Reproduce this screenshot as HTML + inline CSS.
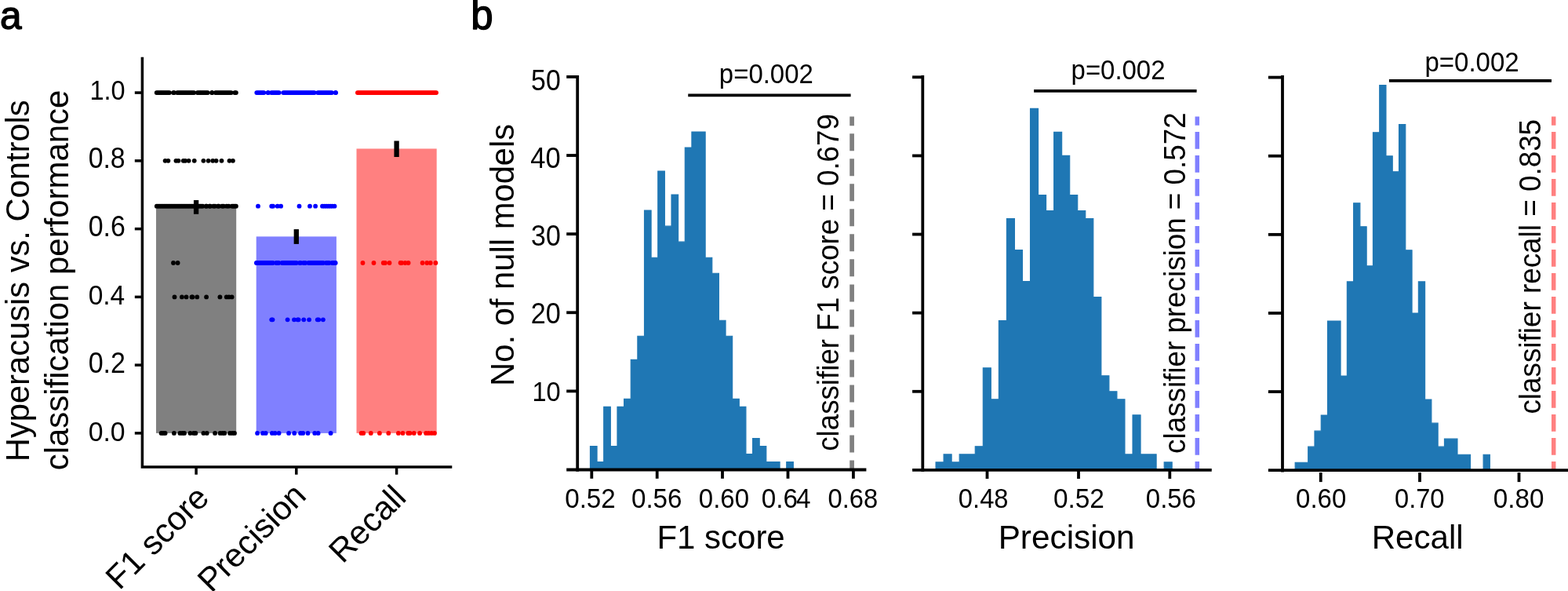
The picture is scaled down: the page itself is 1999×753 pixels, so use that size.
<!DOCTYPE html>
<html lang="en">
<head>
<meta charset="utf-8">
<title>Hyperacusis vs. Controls classification performance</title>
<style>
html, body { margin: 0; padding: 0; background: #ffffff; }
body { width: 1999px; height: 753px; overflow: hidden; }
svg { display: block; font-family: "Liberation Sans", "Noto Sans CJK SC", sans-serif; fill: #000; }
</style>
</head>
<body>
<svg width="1999" height="753" viewBox="0 0 1999 753">
<rect x="0" y="0" width="1999" height="753" fill="#ffffff"/>
<g id="panel-a">
<rect x="199" y="263.86" width="102.2" height="288.04" fill="#808080"/>
<rect x="326.7" y="301.38" width="102.2" height="250.52" fill="#8080ff"/>
<rect x="454.5" y="189.46" width="102.2" height="362.44" fill="#ff8080"/>
<rect x="246.95" y="255" width="6.3" height="17.8" fill="#000"/>
<rect x="374.65" y="292.1" width="6.3" height="18.8" fill="#000"/>
<rect x="502.45" y="179.5" width="6.3" height="20.5" fill="#000"/>
<g fill="#000"><circle cx="199.7" cy="118.1" r="2.9"/><circle cx="201.51" cy="118.1" r="2.9"/><circle cx="203.32" cy="118.1" r="2.9"/><circle cx="205.13" cy="118.1" r="2.9"/><circle cx="206.94" cy="118.1" r="2.9"/><circle cx="208.76" cy="118.1" r="2.9"/><circle cx="210.57" cy="118.1" r="2.9"/><circle cx="212.38" cy="118.1" r="2.9"/><circle cx="214.19" cy="118.1" r="2.9"/><circle cx="216" cy="118.1" r="2.9"/><circle cx="221" cy="118.1" r="2.9"/><circle cx="222" cy="118.1" r="2.9"/><circle cx="226" cy="118.1" r="2.9"/><circle cx="227.93" cy="118.1" r="2.9"/><circle cx="229.86" cy="118.1" r="2.9"/><circle cx="231.8" cy="118.1" r="2.9"/><circle cx="233.73" cy="118.1" r="2.9"/><circle cx="235.66" cy="118.1" r="2.9"/><circle cx="237.59" cy="118.1" r="2.9"/><circle cx="239.52" cy="118.1" r="2.9"/><circle cx="241.45" cy="118.1" r="2.9"/><circle cx="243.39" cy="118.1" r="2.9"/><circle cx="245.32" cy="118.1" r="2.9"/><circle cx="247.25" cy="118.1" r="2.9"/><circle cx="251.75" cy="118.1" r="2.9"/><circle cx="253.61" cy="118.1" r="2.9"/><circle cx="255.48" cy="118.1" r="2.9"/><circle cx="257.34" cy="118.1" r="2.9"/><circle cx="259.21" cy="118.1" r="2.9"/><circle cx="261.07" cy="118.1" r="2.9"/><circle cx="262.94" cy="118.1" r="2.9"/><circle cx="264.8" cy="118.1" r="2.9"/><circle cx="270.2" cy="118.1" r="2.9"/><circle cx="270.25" cy="118.1" r="2.9"/><circle cx="274.75" cy="118.1" r="2.9"/><circle cx="276.75" cy="118.1" r="2.9"/><circle cx="278.74" cy="118.1" r="2.9"/><circle cx="280.74" cy="118.1" r="2.9"/><circle cx="282.73" cy="118.1" r="2.9"/><circle cx="284.73" cy="118.1" r="2.9"/><circle cx="286.72" cy="118.1" r="2.9"/><circle cx="288.71" cy="118.1" r="2.9"/><circle cx="290.71" cy="118.1" r="2.9"/><circle cx="292.7" cy="118.1" r="2.9"/><circle cx="294.7" cy="118.1" r="2.9"/><circle cx="299.3" cy="118.1" r="2.9"/><circle cx="300.9" cy="118.1" r="2.9"/></g>
<g fill="#000"><circle cx="210.6" cy="204.86" r="2.9"/><circle cx="214.4" cy="204.86" r="2.9"/><circle cx="224.4" cy="204.86" r="2.9"/><circle cx="227.5" cy="204.86" r="2.9"/><circle cx="233.75" cy="204.86" r="2.9"/><circle cx="236.25" cy="204.86" r="2.9"/><circle cx="240.6" cy="204.86" r="2.9"/><circle cx="247.75" cy="204.86" r="2.9"/><circle cx="259.4" cy="204.86" r="2.9"/><circle cx="265.6" cy="204.86" r="2.9"/><circle cx="271.25" cy="204.86" r="2.9"/><circle cx="275.6" cy="204.86" r="2.9"/><circle cx="282.5" cy="204.86" r="2.9"/><circle cx="292.5" cy="204.86" r="2.9"/><circle cx="296.9" cy="204.86" r="2.9"/></g>
<g fill="#000"><circle cx="199.8" cy="262.69" r="2.9"/><circle cx="201.69" cy="262.69" r="2.9"/><circle cx="203.58" cy="262.69" r="2.9"/><circle cx="205.47" cy="262.69" r="2.9"/><circle cx="207.36" cy="262.69" r="2.9"/><circle cx="209.25" cy="262.69" r="2.9"/><circle cx="211.14" cy="262.69" r="2.9"/><circle cx="213.03" cy="262.69" r="2.9"/><circle cx="214.92" cy="262.69" r="2.9"/><circle cx="216.81" cy="262.69" r="2.9"/><circle cx="218.7" cy="262.69" r="2.9"/><circle cx="220.59" cy="262.69" r="2.9"/><circle cx="222.48" cy="262.69" r="2.9"/><circle cx="224.37" cy="262.69" r="2.9"/><circle cx="226.26" cy="262.69" r="2.9"/><circle cx="228.15" cy="262.69" r="2.9"/><circle cx="230.05" cy="262.69" r="2.9"/><circle cx="231.94" cy="262.69" r="2.9"/><circle cx="233.83" cy="262.69" r="2.9"/><circle cx="235.72" cy="262.69" r="2.9"/><circle cx="237.61" cy="262.69" r="2.9"/><circle cx="239.5" cy="262.69" r="2.9"/><circle cx="241.39" cy="262.69" r="2.9"/><circle cx="243.28" cy="262.69" r="2.9"/><circle cx="245.17" cy="262.69" r="2.9"/><circle cx="247.06" cy="262.69" r="2.9"/><circle cx="248.95" cy="262.69" r="2.9"/><circle cx="250.84" cy="262.69" r="2.9"/><circle cx="252.73" cy="262.69" r="2.9"/><circle cx="254.62" cy="262.69" r="2.9"/><circle cx="256.51" cy="262.69" r="2.9"/><circle cx="258.4" cy="262.69" r="2.9"/><circle cx="262.8" cy="262.69" r="2.9"/><circle cx="263.2" cy="262.69" r="2.9"/><circle cx="267.2" cy="262.69" r="2.9"/><circle cx="267.9" cy="262.69" r="2.9"/><circle cx="272.1" cy="262.69" r="2.9"/><circle cx="274" cy="262.69" r="2.9"/><circle cx="278" cy="262.69" r="2.9"/><circle cx="278.85" cy="262.69" r="2.9"/><circle cx="283.15" cy="262.69" r="2.9"/><circle cx="285" cy="262.69" r="2.9"/><circle cx="289" cy="262.69" r="2.9"/><circle cx="291.55" cy="262.69" r="2.9"/><circle cx="295.85" cy="262.69" r="2.9"/><circle cx="297.53" cy="262.69" r="2.9"/><circle cx="299.22" cy="262.69" r="2.9"/><circle cx="300.9" cy="262.69" r="2.9"/></g>
<g fill="#000"><circle cx="221" cy="335" r="2.9"/><circle cx="226.6" cy="335" r="2.9"/></g>
<g fill="#000"><circle cx="222.5" cy="378.38" r="2.9"/><circle cx="231.9" cy="378.38" r="2.9"/><circle cx="237.5" cy="378.38" r="2.9"/><circle cx="244.5" cy="378.38" r="2.9"/><circle cx="245.5" cy="378.38" r="2.9"/><circle cx="251.25" cy="378.38" r="2.9"/><circle cx="263.1" cy="378.38" r="2.9"/><circle cx="280.4" cy="378.38" r="2.9"/><circle cx="288.75" cy="378.38" r="2.9"/><circle cx="291.9" cy="378.38" r="2.9"/><circle cx="295.6" cy="378.38" r="2.9"/></g>
<g fill="#000"><circle cx="205.6" cy="551.9" r="2.9"/><circle cx="208.1" cy="551.9" r="2.9"/><circle cx="210.6" cy="551.9" r="2.9"/><circle cx="221.9" cy="551.9" r="2.9"/><circle cx="229.4" cy="551.9" r="2.9"/><circle cx="232.5" cy="551.9" r="2.9"/><circle cx="235" cy="551.9" r="2.9"/><circle cx="242.5" cy="551.9" r="2.9"/><circle cx="246.9" cy="551.9" r="2.9"/><circle cx="249.4" cy="551.9" r="2.9"/><circle cx="259.4" cy="551.9" r="2.9"/><circle cx="263.75" cy="551.9" r="2.9"/><circle cx="274.1" cy="551.9" r="2.9"/><circle cx="280.6" cy="551.9" r="2.9"/><circle cx="283.75" cy="551.9" r="2.9"/><circle cx="286.25" cy="551.9" r="2.9"/><circle cx="293.1" cy="551.9" r="2.9"/><circle cx="296.25" cy="551.9" r="2.9"/><circle cx="299" cy="551.9" r="2.9"/></g>
<g fill="#0000ff"><circle cx="327.3" cy="118.1" r="2.9"/><circle cx="329.12" cy="118.1" r="2.9"/><circle cx="330.94" cy="118.1" r="2.9"/><circle cx="332.76" cy="118.1" r="2.9"/><circle cx="334.58" cy="118.1" r="2.9"/><circle cx="336.4" cy="118.1" r="2.9"/><circle cx="341.6" cy="118.1" r="2.9"/><circle cx="342" cy="118.1" r="2.9"/><circle cx="346" cy="118.1" r="2.9"/><circle cx="347.95" cy="118.1" r="2.9"/><circle cx="349.9" cy="118.1" r="2.9"/><circle cx="351.85" cy="118.1" r="2.9"/><circle cx="353.8" cy="118.1" r="2.9"/><circle cx="355.75" cy="118.1" r="2.9"/><circle cx="361.25" cy="118.1" r="2.9"/><circle cx="363.13" cy="118.1" r="2.9"/><circle cx="365.01" cy="118.1" r="2.9"/><circle cx="366.89" cy="118.1" r="2.9"/><circle cx="368.77" cy="118.1" r="2.9"/><circle cx="370.65" cy="118.1" r="2.9"/><circle cx="372.54" cy="118.1" r="2.9"/><circle cx="374.42" cy="118.1" r="2.9"/><circle cx="376.3" cy="118.1" r="2.9"/><circle cx="378.18" cy="118.1" r="2.9"/><circle cx="380.06" cy="118.1" r="2.9"/><circle cx="381.94" cy="118.1" r="2.9"/><circle cx="383.82" cy="118.1" r="2.9"/><circle cx="385.7" cy="118.1" r="2.9"/><circle cx="387.58" cy="118.1" r="2.9"/><circle cx="389.46" cy="118.1" r="2.9"/><circle cx="391.35" cy="118.1" r="2.9"/><circle cx="393.23" cy="118.1" r="2.9"/><circle cx="395.11" cy="118.1" r="2.9"/><circle cx="396.99" cy="118.1" r="2.9"/><circle cx="398.87" cy="118.1" r="2.9"/><circle cx="400.75" cy="118.1" r="2.9"/><circle cx="405.25" cy="118.1" r="2.9"/><circle cx="407.21" cy="118.1" r="2.9"/><circle cx="409.17" cy="118.1" r="2.9"/><circle cx="411.13" cy="118.1" r="2.9"/><circle cx="413.09" cy="118.1" r="2.9"/><circle cx="415.06" cy="118.1" r="2.9"/><circle cx="417.02" cy="118.1" r="2.9"/><circle cx="418.98" cy="118.1" r="2.9"/><circle cx="420.94" cy="118.1" r="2.9"/><circle cx="422.9" cy="118.1" r="2.9"/><circle cx="427.7" cy="118.1" r="2.9"/><circle cx="428.1" cy="118.1" r="2.9"/></g>
<g fill="#0000ff"><circle cx="329" cy="262.69" r="2.9"/><circle cx="346.25" cy="262.69" r="2.9"/><circle cx="348.1" cy="262.69" r="2.9"/><circle cx="353.75" cy="262.69" r="2.9"/><circle cx="358.1" cy="262.69" r="2.9"/><circle cx="381.5" cy="262.69" r="2.9"/><circle cx="395" cy="262.69" r="2.9"/><circle cx="402.1" cy="262.69" r="2.9"/><circle cx="411" cy="262.69" r="2.9"/><circle cx="413.5" cy="262.69" r="2.9"/><circle cx="416" cy="262.69" r="2.9"/><circle cx="418.5" cy="262.69" r="2.9"/><circle cx="421" cy="262.69" r="2.9"/><circle cx="423.5" cy="262.69" r="2.9"/><circle cx="426.5" cy="262.69" r="2.9"/></g>
<g fill="#0000ff"><circle cx="326.9" cy="335" r="2.9"/><circle cx="328.8" cy="335" r="2.9"/><circle cx="330.71" cy="335" r="2.9"/><circle cx="332.61" cy="335" r="2.9"/><circle cx="334.52" cy="335" r="2.9"/><circle cx="336.42" cy="335" r="2.9"/><circle cx="338.33" cy="335" r="2.9"/><circle cx="340.23" cy="335" r="2.9"/><circle cx="342.14" cy="335" r="2.9"/><circle cx="344.04" cy="335" r="2.9"/><circle cx="345.95" cy="335" r="2.9"/><circle cx="347.85" cy="335" r="2.9"/><circle cx="352.15" cy="335" r="2.9"/><circle cx="353.73" cy="335" r="2.9"/><circle cx="355.3" cy="335" r="2.9"/><circle cx="359.7" cy="335" r="2.9"/><circle cx="361.51" cy="335" r="2.9"/><circle cx="363.32" cy="335" r="2.9"/><circle cx="365.13" cy="335" r="2.9"/><circle cx="366.94" cy="335" r="2.9"/><circle cx="368.75" cy="335" r="2.9"/><circle cx="370.56" cy="335" r="2.9"/><circle cx="372.37" cy="335" r="2.9"/><circle cx="374.18" cy="335" r="2.9"/><circle cx="375.99" cy="335" r="2.9"/><circle cx="377.8" cy="335" r="2.9"/><circle cx="382.2" cy="335" r="2.9"/><circle cx="383" cy="335" r="2.9"/><circle cx="387" cy="335" r="2.9"/><circle cx="389.2" cy="335" r="2.9"/><circle cx="393.4" cy="335" r="2.9"/><circle cx="395.26" cy="335" r="2.9"/><circle cx="397.12" cy="335" r="2.9"/><circle cx="398.98" cy="335" r="2.9"/><circle cx="400.84" cy="335" r="2.9"/><circle cx="402.7" cy="335" r="2.9"/><circle cx="404.56" cy="335" r="2.9"/><circle cx="406.42" cy="335" r="2.9"/><circle cx="408.28" cy="335" r="2.9"/><circle cx="410.14" cy="335" r="2.9"/><circle cx="412" cy="335" r="2.9"/><circle cx="416" cy="335" r="2.9"/><circle cx="417.75" cy="335" r="2.9"/><circle cx="419.5" cy="335" r="2.9"/><circle cx="423.5" cy="335" r="2.9"/><circle cx="425.6" cy="335" r="2.9"/><circle cx="427.7" cy="335" r="2.9"/></g>
<g fill="#0000ff"><circle cx="346.25" cy="407.31" r="2.9"/><circle cx="347.5" cy="407.31" r="2.9"/><circle cx="366.6" cy="407.31" r="2.9"/><circle cx="375" cy="407.31" r="2.9"/><circle cx="379.4" cy="407.31" r="2.9"/><circle cx="380.6" cy="407.31" r="2.9"/><circle cx="387.25" cy="407.31" r="2.9"/><circle cx="394.1" cy="407.31" r="2.9"/><circle cx="404.75" cy="407.31" r="2.9"/><circle cx="406.25" cy="407.31" r="2.9"/><circle cx="411.9" cy="407.31" r="2.9"/></g>
<g fill="#0000ff"><circle cx="328.1" cy="551.9" r="2.9"/><circle cx="335" cy="551.9" r="2.9"/><circle cx="338.75" cy="551.9" r="2.9"/><circle cx="346.9" cy="551.9" r="2.9"/><circle cx="350.6" cy="551.9" r="2.9"/><circle cx="355.6" cy="551.9" r="2.9"/><circle cx="368.1" cy="551.9" r="2.9"/><circle cx="375.25" cy="551.9" r="2.9"/><circle cx="383.1" cy="551.9" r="2.9"/><circle cx="386.25" cy="551.9" r="2.9"/><circle cx="392.5" cy="551.9" r="2.9"/><circle cx="401.25" cy="551.9" r="2.9"/><circle cx="405.6" cy="551.9" r="2.9"/><circle cx="421.6" cy="551.9" r="2.9"/></g>
<g fill="#ff0000"><circle cx="455.9" cy="118.1" r="2.9"/><circle cx="457.79" cy="118.1" r="2.9"/><circle cx="459.68" cy="118.1" r="2.9"/><circle cx="461.57" cy="118.1" r="2.9"/><circle cx="463.46" cy="118.1" r="2.9"/><circle cx="465.35" cy="118.1" r="2.9"/><circle cx="467.24" cy="118.1" r="2.9"/><circle cx="469.13" cy="118.1" r="2.9"/><circle cx="471.02" cy="118.1" r="2.9"/><circle cx="472.92" cy="118.1" r="2.9"/><circle cx="474.81" cy="118.1" r="2.9"/><circle cx="476.7" cy="118.1" r="2.9"/><circle cx="478.59" cy="118.1" r="2.9"/><circle cx="480.48" cy="118.1" r="2.9"/><circle cx="482.37" cy="118.1" r="2.9"/><circle cx="484.26" cy="118.1" r="2.9"/><circle cx="486.15" cy="118.1" r="2.9"/><circle cx="488.04" cy="118.1" r="2.9"/><circle cx="489.93" cy="118.1" r="2.9"/><circle cx="491.82" cy="118.1" r="2.9"/><circle cx="493.71" cy="118.1" r="2.9"/><circle cx="495.6" cy="118.1" r="2.9"/><circle cx="497.49" cy="118.1" r="2.9"/><circle cx="499.38" cy="118.1" r="2.9"/><circle cx="501.27" cy="118.1" r="2.9"/><circle cx="503.16" cy="118.1" r="2.9"/><circle cx="505.05" cy="118.1" r="2.9"/><circle cx="506.95" cy="118.1" r="2.9"/><circle cx="508.84" cy="118.1" r="2.9"/><circle cx="510.73" cy="118.1" r="2.9"/><circle cx="512.62" cy="118.1" r="2.9"/><circle cx="514.51" cy="118.1" r="2.9"/><circle cx="516.4" cy="118.1" r="2.9"/><circle cx="518.29" cy="118.1" r="2.9"/><circle cx="520.18" cy="118.1" r="2.9"/><circle cx="522.07" cy="118.1" r="2.9"/><circle cx="523.96" cy="118.1" r="2.9"/><circle cx="525.85" cy="118.1" r="2.9"/><circle cx="527.74" cy="118.1" r="2.9"/><circle cx="529.63" cy="118.1" r="2.9"/><circle cx="531.52" cy="118.1" r="2.9"/><circle cx="533.41" cy="118.1" r="2.9"/><circle cx="535.3" cy="118.1" r="2.9"/><circle cx="537.19" cy="118.1" r="2.9"/><circle cx="539.08" cy="118.1" r="2.9"/><circle cx="540.98" cy="118.1" r="2.9"/><circle cx="542.87" cy="118.1" r="2.9"/><circle cx="544.76" cy="118.1" r="2.9"/><circle cx="546.65" cy="118.1" r="2.9"/><circle cx="548.54" cy="118.1" r="2.9"/><circle cx="550.43" cy="118.1" r="2.9"/><circle cx="552.32" cy="118.1" r="2.9"/><circle cx="554.21" cy="118.1" r="2.9"/><circle cx="556.1" cy="118.1" r="2.9"/></g>
<g fill="#ff0000"><circle cx="462.5" cy="335" r="2.9"/><circle cx="476.5" cy="335" r="2.9"/><circle cx="488.75" cy="335" r="2.9"/><circle cx="491" cy="335" r="2.9"/><circle cx="496.5" cy="335" r="2.9"/><circle cx="510.5" cy="335" r="2.9"/><circle cx="512" cy="335" r="2.9"/><circle cx="516.5" cy="335" r="2.9"/><circle cx="520.6" cy="335" r="2.9"/><circle cx="538.6" cy="335" r="2.9"/><circle cx="544.3" cy="335" r="2.9"/><circle cx="548.75" cy="335" r="2.9"/><circle cx="555.4" cy="335" r="2.9"/></g>
<g fill="#ff0000"><circle cx="460.6" cy="551.9" r="2.9"/><circle cx="463.25" cy="551.9" r="2.9"/><circle cx="472.8" cy="551.9" r="2.9"/><circle cx="483.9" cy="551.9" r="2.9"/><circle cx="495.3" cy="551.9" r="2.9"/><circle cx="507.9" cy="551.9" r="2.9"/><circle cx="513.5" cy="551.9" r="2.9"/><circle cx="520.25" cy="551.9" r="2.9"/><circle cx="522.5" cy="551.9" r="2.9"/><circle cx="527.75" cy="551.9" r="2.9"/><circle cx="535.1" cy="551.9" r="2.9"/><circle cx="543.1" cy="551.9" r="2.9"/><circle cx="546.5" cy="551.9" r="2.9"/><circle cx="550.25" cy="551.9" r="2.9"/><circle cx="554" cy="551.9" r="2.9"/></g>
<path d="M181.4 72.8 V595 H576.3" fill="none" stroke="#000" stroke-width="3.5" stroke-linejoin="miter"/>
<line x1="171.8" y1="118.1" x2="181.4" y2="118.1" stroke="#000" stroke-width="3.5"/>
<text transform="translate(114.41 126.9) scale(1 1.065)" font-size="32.47">1.0</text>
<line x1="171.8" y1="204.86" x2="181.4" y2="204.86" stroke="#000" stroke-width="3.5"/>
<text transform="translate(112.65 214) scale(1 1.065)" font-size="33.84">0.8</text>
<line x1="171.8" y1="291.62" x2="181.4" y2="291.62" stroke="#000" stroke-width="3.5"/>
<text transform="translate(112.64 301.1) scale(1 1.065)" font-size="33.91">0.6</text>
<line x1="171.8" y1="378.38" x2="181.4" y2="378.38" stroke="#000" stroke-width="3.5"/>
<text transform="translate(112.66 388.2) scale(1 1.065)" font-size="33.52">0.4</text>
<line x1="171.8" y1="465.14" x2="181.4" y2="465.14" stroke="#000" stroke-width="3.5"/>
<text transform="translate(112.64 475.3) scale(1 1.065)" font-size="34.04">0.2</text>
<line x1="171.8" y1="551.9" x2="181.4" y2="551.9" stroke="#000" stroke-width="3.5"/>
<text transform="translate(112.65 562.4) scale(1 1.065)" font-size="33.78">0.0</text>
<line x1="250.1" y1="595" x2="250.1" y2="604.7" stroke="#000" stroke-width="3.5"/>
<line x1="377.8" y1="595" x2="377.8" y2="604.7" stroke="#000" stroke-width="3.5"/>
<line x1="505.6" y1="595" x2="505.6" y2="604.7" stroke="#000" stroke-width="3.5"/>
<text transform="translate(268.6 636.7) rotate(-45)" font-size="42.3" text-anchor="end">F1 score</text>
<text transform="translate(392.4 633.6) rotate(-45)" font-size="42.3" text-anchor="end">Precision</text>
<text transform="translate(519.85 636.15) rotate(-45)" font-size="42.3" text-anchor="end">Recall</text>
<text transform="translate(37.1 588.19) rotate(-90)" font-size="41.68">Hyperacusis vs. Controls</text>
<text transform="translate(87.1 599.28) rotate(-90)" font-size="41.93">classification performance</text>
<text x="0" y="37.4" font-size="49.5" stroke="#000" stroke-width="1.4" stroke-linejoin="round">a</text>
<text x="600.3" y="36.8" font-size="51" stroke="#000" stroke-width="1.4" stroke-linejoin="round">b</text>
</g>
<g id="panel-b">
<path d="M752.45 598.5V568.46H761.08V588.49H769.71V518.4H778.34V568.46H786.97V518.4H795.6V508.39H804.23V458.33H812.86V428.3H821.49V268.1H830.12V328.18H838.75V218.04H847.38V288.13H856.01V248.08H864.64V308.15H873.27V188.01H881.9V167.98H890.53V167.98H899.16V328.18H907.79V348.2H916.42V408.27H925.05V428.3H933.68V508.39H942.31V518.4H950.94V578.48H959.57V558.45H968.2V568.46H976.83V588.49H985.46V588.49H994.09V598.5H1002.72V588.49H1011.35V598.5Z" fill="#1f77b4" stroke="#1f77b4" stroke-width="1.1" stroke-linejoin="miter"/>
<path d="M1086.1 148.5V160.17M1086.1 170.2V192.2M1086.1 202.23V224.23M1086.1 234.26V256.26M1086.1 266.29V288.29M1086.1 298.32V320.32M1086.1 330.35V352.35M1086.1 362.38V384.38M1086.1 394.41V416.41M1086.1 426.44V448.44M1086.1 458.47V480.47M1086.1 490.5V512.5M1086.1 522.53V544.53M1086.1 554.56V576.56M1086.1 586.59V598.5" fill="none" stroke="#808080" stroke-width="5.7"/>
<path d="M736.2 96 V600.7" fill="none" stroke="#000" stroke-width="3.8"/>
<path d="M722.2 598.5 H1104.4" fill="none" stroke="#000" stroke-width="3.8"/>
<line x1="722.2" y1="498.38" x2="736.2" y2="498.38" stroke="#000" stroke-width="3.8"/>
<text transform="translate(678.41 510.8) scale(1 1.065)" font-size="32.58">10</text>
<line x1="722.2" y1="398.26" x2="736.2" y2="398.26" stroke="#000" stroke-width="3.8"/>
<text transform="translate(676.64 411.95) scale(1 1.065)" font-size="34.23">20</text>
<line x1="722.2" y1="298.14" x2="736.2" y2="298.14" stroke="#000" stroke-width="3.8"/>
<text transform="translate(677.08 313.05) scale(1 1.065)" font-size="33.82">30</text>
<line x1="722.2" y1="198.02" x2="736.2" y2="198.02" stroke="#000" stroke-width="3.8"/>
<text transform="translate(676.37 214.15) scale(1 1.065)" font-size="34.48">40</text>
<line x1="722.2" y1="97.9" x2="736.2" y2="97.9" stroke="#000" stroke-width="3.8"/>
<text transform="translate(677.1 114.65) scale(1 1.065)" font-size="33.8">50</text>
<line x1="754.3" y1="598.5" x2="754.3" y2="609.8" stroke="#000" stroke-width="3.8"/>
<line x1="837.7" y1="598.5" x2="837.7" y2="609.8" stroke="#000" stroke-width="3.8"/>
<line x1="921" y1="598.5" x2="921" y2="609.8" stroke="#000" stroke-width="3.8"/>
<line x1="1004.5" y1="598.5" x2="1004.5" y2="609.8" stroke="#000" stroke-width="3.8"/>
<line x1="1087.9" y1="598.5" x2="1087.9" y2="609.8" stroke="#000" stroke-width="3.8"/>
<text transform="translate(720.17 646.9) scale(1 1.065)" font-size="33.23">0.52</text>
<text transform="translate(804.92 646.9) scale(1 1.065)" font-size="33.23">0.56</text>
<text transform="translate(890.83 646.9) scale(1 1.065)" font-size="32.99">0.60</text>
<text transform="translate(970.82 646.9) scale(1 1.065)" font-size="33.3">0.6<tspan dx="-2.1">4</tspan></text>
<text transform="translate(1055.54 646.9) scale(1 1.065)" font-size="32.75">0.68</text>
<line x1="877.25" y1="121.4" x2="1084.6" y2="121.4" stroke="#000" stroke-width="3.8"/>
<text transform="translate(916.86 106) scale(1 1.065)" font-size="32.93">p=0.002</text>
<text transform="translate(837.39 699)" font-size="41.99">F1 score</text>
<text transform="translate(1069.2 574.81) rotate(-90) scale(1 1.05)" font-size="36.74">classifier F1 score = 0.679</text>
<path d="M1193.05 598.9V588.89H1203.09V578.88H1213.13V588.89H1223.16V578.88H1233.2V578.88H1243.24V568.86H1253.28V468.74H1263.32V508.79H1273.36V408.67H1283.39V278.52H1293.43V318.56H1303.47V358.61H1313.51V138.35H1323.55V248.48H1333.59V268.5H1343.62V168.38H1353.66V198.42H1363.7V248.48H1373.74V268.5H1383.78V278.52H1393.82V378.64H1403.86V478.76H1413.89V498.78H1423.93V508.79H1433.97V578.88H1444.01V528.82H1454.05V578.88H1464.09V578.88H1474.12V598.9H1484.16V588.89H1494.2V598.9Z" fill="#1f77b4" stroke="#1f77b4" stroke-width="1.1" stroke-linejoin="miter"/>
<path d="M1526.3 148.5V159.8M1526.3 167.9V189.8M1526.3 197.9V219.8M1526.3 227.9V249.8M1526.3 257.9V279.8M1526.3 287.9V309.8M1526.3 317.9V339.8M1526.3 347.9V369.8M1526.3 377.9V399.8M1526.3 407.9V429.8M1526.3 437.9V459.8M1526.3 467.9V489.8M1526.3 497.9V519.8M1526.3 527.9V549.8M1526.3 557.9V579.8M1526.3 587.9V598.9" fill="none" stroke="#8080ff" stroke-width="5.5"/>
<path d="M1176.3 96 V601.1" fill="none" stroke="#000" stroke-width="3.8"/>
<path d="M1163.1 598.9 H1544.75" fill="none" stroke="#000" stroke-width="3.8"/>
<line x1="1163.1" y1="498.78" x2="1176.3" y2="498.78" stroke="#000" stroke-width="3.8"/>
<line x1="1163.1" y1="398.66" x2="1176.3" y2="398.66" stroke="#000" stroke-width="3.8"/>
<line x1="1163.1" y1="298.54" x2="1176.3" y2="298.54" stroke="#000" stroke-width="3.8"/>
<line x1="1163.1" y1="198.42" x2="1176.3" y2="198.42" stroke="#000" stroke-width="3.8"/>
<line x1="1163.1" y1="98.3" x2="1176.3" y2="98.3" stroke="#000" stroke-width="3.8"/>
<line x1="1258.5" y1="598.9" x2="1258.5" y2="610" stroke="#000" stroke-width="3.8"/>
<line x1="1375" y1="598.9" x2="1375" y2="610" stroke="#000" stroke-width="3.8"/>
<line x1="1491.3" y1="598.9" x2="1491.3" y2="610" stroke="#000" stroke-width="3.8"/>
<text transform="translate(1221.84 646.9) scale(1 1.065)" font-size="32.75">0.48</text>
<text transform="translate(1342.91 646.9) scale(1 1.065)" font-size="33.42">0.52</text>
<text transform="translate(1460.83 646.9) scale(1 1.065)" font-size="32.94">0.56</text>
<line x1="1318.1" y1="115.9" x2="1525.6" y2="115.9" stroke="#000" stroke-width="3.8"/>
<text transform="translate(1365.61 101) scale(1 1.065)" font-size="32.91">p=0.002</text>
<text transform="translate(1272.66 699)" font-size="42.3">Precision</text>
<text transform="translate(1511.2 577.91) rotate(-90) scale(1 1.05)" font-size="36.79">classifier precision = 0.572</text>
<path d="M1651.15 599.2V589.19H1659.42V589.19H1667.7V569.16H1675.97V549.14H1684.24V529.12H1692.52V408.97H1700.79V408.97H1709.06V479.06H1717.34V358.91H1725.61V258.79H1733.88V288.83H1742.16V338.89H1750.43V168.68H1758.7V108.61H1766.98V198.72H1775.25V218.74H1783.52V158.67H1791.8V318.86H1800.07V398.96H1808.34V358.91H1816.62V509.09H1824.89V539.13H1833.16V569.16H1841.44V559.15H1849.71V559.15H1857.98V579.18H1866.26V579.18H1874.53V599.2H1882.8V599.2H1891.08V579.18H1899.35V599.2Z" fill="#1f77b4" stroke="#1f77b4" stroke-width="1.1" stroke-linejoin="miter"/>
<path d="M1980.7 148.5V159.8M1980.7 167.9V189.8M1980.7 197.9V219.8M1980.7 227.9V249.8M1980.7 257.9V279.8M1980.7 287.9V309.8M1980.7 317.9V339.8M1980.7 347.9V369.8M1980.7 377.9V399.8M1980.7 407.9V429.8M1980.7 437.9V459.8M1980.7 467.9V489.8M1980.7 497.9V519.8M1980.7 527.9V549.8M1980.7 557.9V579.8M1980.7 587.9V599.2" fill="none" stroke="#ff8080" stroke-width="5.5"/>
<path d="M1635 96 V601.4" fill="none" stroke="#000" stroke-width="3.8"/>
<path d="M1616.9 599.2 H1999.5" fill="none" stroke="#000" stroke-width="3.8"/>
<line x1="1616.9" y1="499.08" x2="1635" y2="499.08" stroke="#000" stroke-width="3.8"/>
<line x1="1616.9" y1="398.96" x2="1635" y2="398.96" stroke="#000" stroke-width="3.8"/>
<line x1="1616.9" y1="298.84" x2="1635" y2="298.84" stroke="#000" stroke-width="3.8"/>
<line x1="1616.9" y1="198.72" x2="1635" y2="198.72" stroke="#000" stroke-width="3.8"/>
<line x1="1616.9" y1="98.6" x2="1635" y2="98.6" stroke="#000" stroke-width="3.8"/>
<line x1="1683.75" y1="602.1" x2="1683.75" y2="614.1" stroke="#000" stroke-width="3.8"/>
<line x1="1810" y1="602.1" x2="1810" y2="614.1" stroke="#000" stroke-width="3.8"/>
<line x1="1936.5" y1="602.1" x2="1936.5" y2="614.1" stroke="#000" stroke-width="3.8"/>
<text transform="translate(1652.03 646.9) scale(1 1.065)" font-size="33.01">0.60</text>
<text transform="translate(1778.05 646.9) scale(1 1.065)" font-size="32.61">0.70</text>
<text transform="translate(1903.82 646.9) scale(1 1.065)" font-size="33.2">0.80</text>
<line x1="1770.9" y1="102.8" x2="1978" y2="102.8" stroke="#000" stroke-width="3.8"/>
<text transform="translate(1816.51 91) scale(1 1.065)" font-size="32.98">p=0.002</text>
<text transform="translate(1748.68 699)" font-size="42.09">Recall</text>
<text transform="translate(1964 527.57) rotate(-90) scale(1 1.05)" font-size="36.84">classifier recall = 0.835</text>
<text transform="translate(654.7 491.94) rotate(-90)" font-size="41.76">No. of null models</text>
</g>
</svg>
</body>
</html>
